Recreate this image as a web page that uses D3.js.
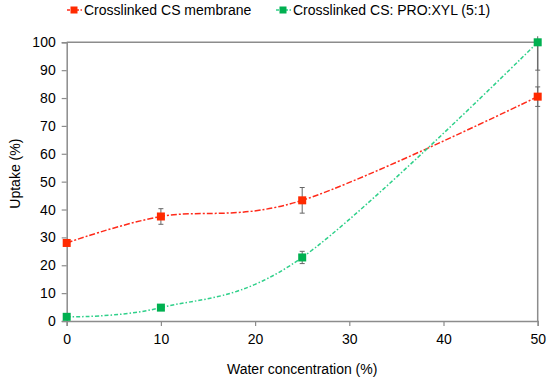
<!DOCTYPE html>
<html><head><meta charset="utf-8">
<script src="https://cdn.jsdelivr.net/npm/d3@7"></script>
<style>body{margin:0;background:#fff}svg{display:block}text{font-family:"Liberation Sans",Arial,sans-serif;fill:#000}</style>
</head><body><svg id="c" width="550" height="382"></svg>
<script>
const xValues = [0, 10, 25, 50];
const seriesNames = ["Crosslinked CS membrane", "Crosslinked CS: PRO:XYL (5:1)"];
const redValues = [28, 37.5, 43.3, 80.5];
const redErrors = [0, 2.8, 4.6, 3.5];
const greenValues = [1.5, 4.8, 22.8, 100];
const greenErrors = [0, 1, 2.2, 10];
const xTicks = [0, 10, 20, 30, 40, 50];
const yTicks = [0, 10, 20, 30, 40, 50, 60, 70, 80, 90, 100];

const svg = d3.select("#c");
const L = 66.7, R = 537.7, T = 42.3, B = 321;
const x = d3.scaleLinear().domain([0, 50]).range([L, R]);
const y = d3.scaleLinear().domain([0, 100]).range([B, T]);
const axisCol = "#8c8c8c";

svg.append("line").attr("x1", L).attr("x2", R).attr("y1", T).attr("y2", T).attr("stroke", axisCol).attr("stroke-width", 1.5);
svg.append("line").attr("x1", R).attr("x2", R).attr("y1", T).attr("y2", B).attr("stroke", axisCol).attr("stroke-width", 1.5);

const yAxis = svg.append("g").attr("transform", `translate(${L},0)`)
  .call(d3.axisLeft(y).tickValues(yTicks).tickSize(5).tickPadding(6));
const xAxis = svg.append("g").attr("transform", `translate(0,${B})`)
  .call(d3.axisBottom(x).tickValues(xTicks).tickSize(5).tickPadding(8));
[yAxis, xAxis].forEach(g => {
  g.select(".domain").attr("stroke", axisCol).attr("stroke-width", 1.5);
  g.selectAll(".tick line").attr("stroke", axisCol).attr("stroke-width", 1.2);
  g.selectAll("text").attr("font-size", 14).attr("font-family", '"Liberation Sans",Arial,sans-serif').attr("fill", "#000");
});

svg.append("text").attr("transform", `translate(20,${(T + B) / 2 - 8}) rotate(-90)`)
  .attr("text-anchor", "middle").attr("font-size", 14).text("Uptake (%)");
svg.append("text").attr("x", (L + R) / 2).attr("y", 374)
  .attr("text-anchor", "middle").attr("font-size", 14).text("Water concentration (%)");

const series = [
  {vals: redValues, errs: redErrors, line: "#ff2a1a", mark: "#ff2a00", dash: "6,2,2,2"},
  {vals: greenValues, errs: greenErrors, line: "#2fd08a", mark: "#00b050", dash: "4,2,1.5,2"}
];
svg.append("clipPath").attr("id", "pc").append("rect")
  .attr("x", L - 10).attr("y", T - 6).attr("width", R - L + 20).attr("height", B - T + 12);

const lineGen = d3.line().x(d => x(d[0])).y(d => y(d[1])).curve(d3.curveCardinal.tension(0));
series.forEach(s => {
  const pts = xValues.map((xv, i) => [xv, s.vals[i], s.errs[i]]);
  const g = svg.append("g");
  const eg = g.append("g").attr("clip-path", "url(#pc)");
  pts.filter(p => p[2] > 0).forEach(p => {
    const y2 = y(p[1] - p[2]);
    eg.append("line").attr("x1", x(p[0])).attr("x2", x(p[0])).attr("y1", y(p[1] + p[2])).attr("y2", y2).attr("stroke", "#666").attr("stroke-width", 1);
    [y(p[1] + p[2]), y2].forEach(yy => {
      if (yy >= T - 1) eg.append("line").attr("x1", x(p[0]) - 2.5).attr("x2", x(p[0]) + 2.5).attr("y1", yy).attr("y2", yy).attr("stroke", "#666").attr("stroke-width", 1);
    });
  });
  g.append("path").attr("d", lineGen(pts)).attr("fill", "none").attr("stroke", s.line)
    .attr("stroke-width", 1.5).attr("stroke-dasharray", s.dash);
  g.selectAll("rect").data(pts).join("rect")
    .attr("x", d => x(d[0]) - 4).attr("y", d => y(d[1]) - 4).attr("width", 8).attr("height", 8).attr("fill", s.mark);
});

const leg = [{x: 67, s: series[0], name: seriesNames[0]}, {x: 276, s: series[1], name: seriesNames[1]}];
leg.forEach(l => {
  svg.append("line").attr("x1", l.x).attr("x2", l.x + 15).attr("y1", 10).attr("y2", 10)
    .attr("stroke", l.s.line).attr("stroke-width", 1.5).attr("stroke-dasharray", "3,1.5");
  svg.append("rect").attr("x", l.x + 3.5).attr("y", 6.5).attr("width", 7).attr("height", 7).attr("fill", l.s.mark);
  svg.append("text").attr("x", l.x + 17).attr("y", 15).attr("font-size", 14).text(l.name);
});
</script></body></html>
